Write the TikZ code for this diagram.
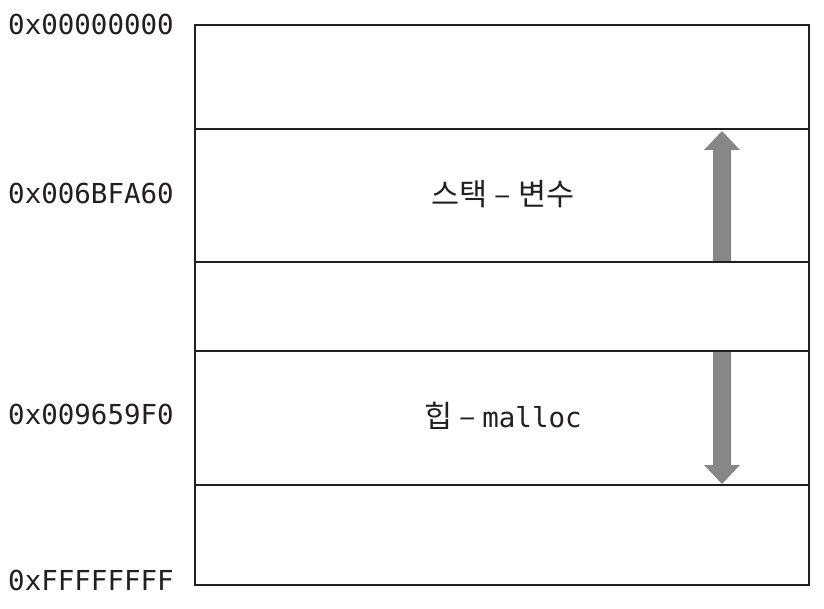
\documentclass[tikz,border=0pt]{standalone}
\usepackage{fontspec}
\setmainfont{DejaVu Sans}
\newfontfamily\monofont{DejaVu Sans Mono}
\newfontfamily\krfont{Noto Sans CJK KR}
\definecolor{linecol}{HTML}{231F20}
\definecolor{arrowgray}{HTML}{878787}
\tikzset{
  addr/.style={anchor=west, inner sep=0pt, text=linecol, font=\monofont\fontsize{27.5}{32}\selectfont},
  lbl/.style={inner sep=0pt, text=linecol, font=\krfont\fontsize{30.5}{36}\selectfont},
  band/.style={draw=linecol, line width=1.8pt},
  bigarrow/.style={fill=arrowgray, draw=none}
}
\begin{document}
\begin{tikzpicture}[x=1pt,y=-1pt]
\useasboundingbox (0,0) rectangle (824,609);
% memory bands
\draw[band] (195,25) rectangle (809,585);
\draw[band] (195,129) -- (809,129);
\draw[band] (195,262) -- (809,262);
\draw[band] (195,351) -- (809,351);
\draw[band] (195,485) -- (809,485);
% arrows
\fill[bigarrow] (713,261) -- (731,261) -- (731,150) -- (740,150) -- (722,131) -- (704,150) -- (713,150) -- cycle;
\fill[bigarrow] (713,352) -- (731,352) -- (731,465) -- (740,465) -- (722,484) -- (704,465) -- (713,465) -- cycle;
% addresses
\node[addr] (a0) at (8,24) {0x00000000};
\node[addr] (a1) at (8,193) {0x006BFA60};
\node[addr] (a2) at (8,414) {0x009659F0};
\node[addr] (a3) at (8,580) {0xFFFFFFFF};
% labels
\node[lbl] (stack) at (503,194) {스택 – 변수};
\node[lbl] (heap) at (503,416) {힙 – {\monofont\fontsize{27.5}{32}\selectfont malloc}};
\end{tikzpicture}
\end{document}
